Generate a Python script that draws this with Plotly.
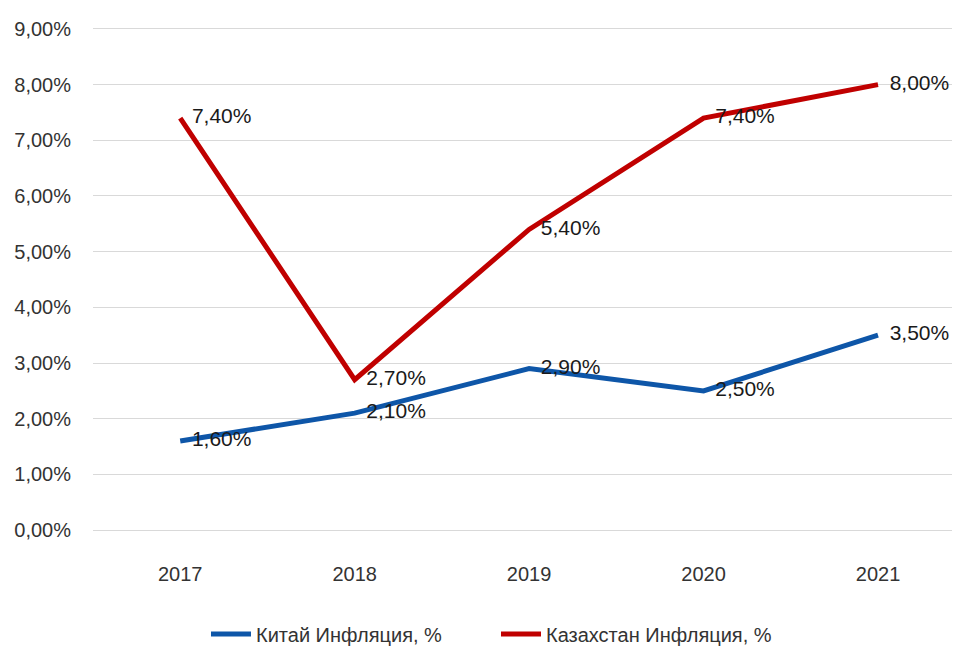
import plotly.graph_objects as go

years = ["2017", "2018", "2019", "2020", "2021"]
china = [0.016, 0.021, 0.029, 0.025, 0.035]
kazakhstan = [0.074, 0.027, 0.054, 0.074, 0.080]

FONT = "Liberation Sans Narrow, Liberation Sans, Arial, sans-serif"
PAD = "\u00a0\u00a0"

fig = go.Figure()
fig.add_trace(go.Scatter(x=years, y=china, name="Китай Инфляция, %",
                         mode="lines+text", line=dict(color="#0E56A8", width=5),
                         texttemplate=PAD + "%{y:.2%}", textposition="middle right",
                         textfont=dict(size=21, color="#1a1a1a")))
fig.add_trace(go.Scatter(x=years, y=kazakhstan, name="Казахстан Инфляция, %",
                         mode="lines+text", line=dict(color="#C00000", width=5),
                         texttemplate=PAD + "%{y:.2%}", textposition="middle right",
                         textfont=dict(size=21, color="#1a1a1a")))

# page body adds an 8px offset, so the figure is 952x642
fig.update_layout(
    width=952, height=642,
    margin=dict(l=85, r=0, t=19, b=118, autoexpand=False),
    plot_bgcolor="white", paper_bgcolor="white",
    separators=", ",
    font=dict(family=FONT, size=20, color="#333333"),
    showlegend=True,
    legend=dict(orientation="h", xref="container", yref="container",
                x=0.5126, xanchor="center", y=0.025, yanchor="middle",
                font=dict(size=20, color="#333333"), itemwidth=40, entrywidth=235),
)
fig.update_xaxes(type="category", range=[-0.5, 4.47], showgrid=False, showline=False,
                 ticks="", ticklabelstandoff=28, automargin=False,
                 tickfont=dict(size=20, color="#333333"))
fig.update_yaxes(range=[-0.00035, 0.09035], dtick=0.01, tickformat=".2%", showgrid=True,
                 gridcolor="#D9D9D9", gridwidth=1, zeroline=False, showline=False,
                 ticks="", ticklabelstandoff=21, automargin=False,
                 tickfont=dict(size=20, color="#333333"))

fig.write_html("out.html")
